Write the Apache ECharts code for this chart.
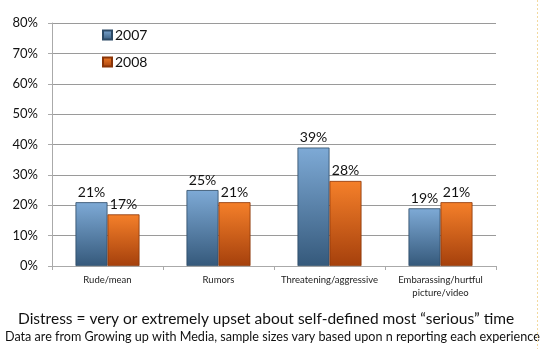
<!DOCTYPE html>
<html>
<head>
<meta charset="utf-8">
<script src="https://cdn.jsdelivr.net/npm/echarts@6/dist/echarts.min.js"></script>
<style>
  html, body { margin: 0; padding: 0; background: #fff; }
  #chart { width: 548px; height: 349px; }
</style>
</head>
<body>
<div id="chart"></div>
<script>
// Share of youth distressed by each kind of online harassment
const categories = ['Rude/mean', 'Rumors', 'Threatening/aggressive', 'Embarassing/hurtful\npicture/video'];
const seriesNames = ['2007', '2008'];
const values2007 = [21, 25, 39, 19];
const values2008 = [17, 21, 28, 21];
const yTicks = { min: 0, max: 80, interval: 10 };
const noteMain = 'Distress = very or extremely upset about self-defined most \u201cserious\u201d time';
const noteSource = 'Data are from Growing up with Media, sample sizes vary based upon n reporting each experience';

const FONT = 'Lato, "Open Sans", sans-serif';

function grad(top, bottom) {
  return new echarts.graphic.LinearGradient(0, 0, 0, 1, [
    { offset: 0, color: top },
    { offset: 1, color: bottom }
  ]);
}

const blueFill = grad('#7eaad6', '#35597b');
const orangeFill = grad('#f5802a', '#a5400c');

const labelCfg = {
  show: true,
  position: 'top',
  distance: 3,
  color: '#111',
  fontFamily: FONT,
  fontSize: 14,
  formatter: p => p.value + '%'
};

const chart = echarts.init(document.getElementById('chart'), null, { renderer: 'canvas' });
chart.setOption({
  animation: false,
  backgroundColor: '#fff',
  grid: { left: 52, right: 52, top: 23, bottom: 83, containLabel: false },
  legend: {
    orient: 'vertical',
    left: 97,
    top: 23,
    itemWidth: 9,
    itemHeight: 9,
    itemGap: 13,
    icon: 'rect',
    textStyle: { fontFamily: FONT, fontSize: 14, color: '#111', padding: [0, 0, 0, -2] },
    data: seriesNames
  },
  xAxis: {
    type: 'category',
    data: categories,
    axisLine: { lineStyle: { color: '#aaa', width: 1 } },
    axisTick: { show: true, length: 4, lineStyle: { color: '#aaa' } },
    axisLabel: { interval: 0, fontFamily: FONT, fontSize: 9.5, color: '#222', margin: 7, lineHeight: 13 }
  },
  yAxis: {
    type: 'value',
    min: yTicks.min,
    max: yTicks.max,
    interval: yTicks.interval,
    axisLine: { show: true, lineStyle: { color: '#aaa', width: 1 } },
    axisTick: { show: true, length: 4, lineStyle: { color: '#aaa' } },
    splitLine: { lineStyle: { color: '#9a9a9a', width: 1 } },
    axisLabel: { fontFamily: FONT, fontSize: 13, color: '#111', margin: 14, formatter: v => v + '%' }
  },
  series: [
    {
      name: seriesNames[0],
      type: 'bar',
      data: values2007,
      barWidth: 32,
      barGap: '0%',
      itemStyle: { color: blueFill, borderColor: '#2c4a66', borderWidth: 0.8 },
      label: labelCfg
    },
    {
      name: seriesNames[1],
      type: 'bar',
      data: values2008,
      barWidth: 32,
      barGap: '0%',
      itemStyle: { color: orangeFill, borderColor: '#8a3508', borderWidth: 0.8 },
      label: labelCfg
    }
  ],
  graphic: [
    {
      type: 'text',
      left: 18,
      top: 311,
      style: { text: noteMain, fontFamily: FONT, fontSize: 15.5, fill: '#111' }
    },
    {
      type: 'text',
      left: 5,
      top: 330,
      style: { text: noteSource, fontFamily: FONT, fontSize: 12.6, fill: '#111' }
    },
    {
      type: 'line',
      shape: { x1: 537.5, y1: 0, x2: 537.5, y2: 349 },
      style: { stroke: '#f2d9a0', lineWidth: 1, lineDash: [2, 2] }
    }
  ]
});
</script>
</body>
</html>
